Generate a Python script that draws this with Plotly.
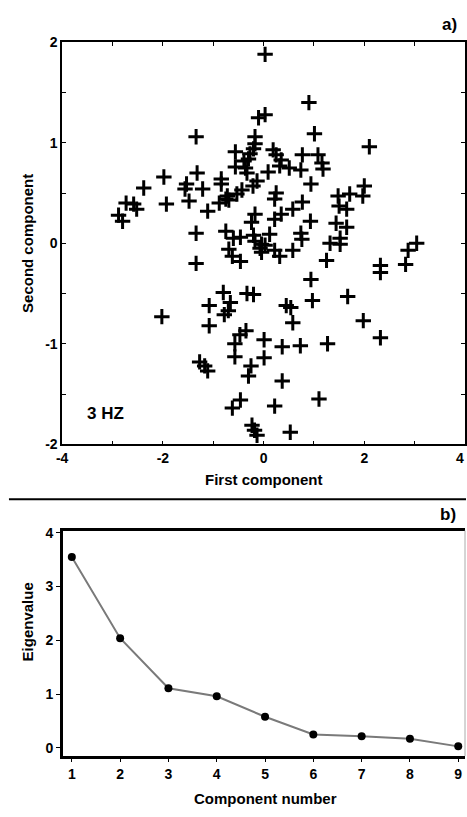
import plotly.graph_objects as go

# ---- Panel a): scores on first two components (3 Hz) ----
first_comp = [
    -2.88, -2.80, -2.73, -2.58, -2.52, -2.38, -1.98, -1.93, -1.34, -1.53,
    -1.56, -1.48, -1.32, -1.21, -1.11, -1.34, -0.84, -0.84, -0.88, -0.75,
    -0.75, -0.60, -0.46, 0.03, 0.90, -0.10, 0.03, 1.01, 2.10, -0.17,
    -0.17, -0.20, -0.27, -0.30, -0.56, 0.19, 0.25, 0.35, 0.77, 1.08,
    0.32, 0.51, 1.16, 1.18, 0.74, 0.09, -0.56, -0.39, -0.36, -0.33,
    0.94, -0.13, -0.21, -0.43, -0.53, -0.72, -0.69, 0.25, 0.22, 1.48,
    1.71, 2.00, 1.97, 1.50, 1.65, 0.77, 0.58, 0.35, 0.22, -0.17,
    -0.24, 0.93, 1.44, 1.65, -0.20, -0.17, -0.04, 0.12, 0.74, 0.76,
    1.32, 1.52, 1.52, -0.07, 0.03, -0.04, 0.22, 0.32, 0.58, 1.25,
    -0.69, -0.62, -0.46, -1.34, 0.94, -0.80, -0.66, -0.78, -0.70, -0.33,
    -0.20, -1.08, -1.08, -2.02, 0.45, 0.54, 0.97, 1.67, 0.58, 1.98,
    2.32, -0.47, -0.35, -0.57, -0.57, 0.01, 0.01, 0.37, 0.73, 1.27,
    -1.27, -1.17, -1.11, -0.25, -0.30, 0.37, 1.10, -0.46, -0.62, 0.22,
    -0.23, -0.18, -0.13, 0.53, 2.32, 2.32, 2.82, 2.87, 3.04,
]
second_comp = [
    0.28, 0.22, 0.40, 0.39, 0.34, 0.55, 0.66, 0.39, 1.06, 0.59,
    0.54, 0.42, 0.70, 0.54, 0.32, 0.10, 0.64, 0.59, 0.40, 0.44,
    0.12, 0.05, 0.06, 1.88, 1.40, 1.25, 1.28, 1.09, 0.96, 1.06,
    0.99, 0.94, 0.89, 0.84, 0.91, 0.93, 0.88, 0.83, 0.88, 0.88,
    0.77, 0.75, 0.80, 0.74, 0.73, 0.71, 0.76, 0.82, 0.75, 0.70,
    0.59, 0.62, 0.57, 0.53, 0.49, 0.47, 0.43, 0.50, 0.44, 0.47,
    0.49, 0.57, 0.47, 0.37, 0.34, 0.41, 0.34, 0.29, 0.24, 0.29,
    0.21, 0.22, 0.20, 0.16, 0.08, 0.02, -0.01, 0.09, 0.10, 0.04,
    0.00, 0.05, -0.01, -0.05, -0.02, -0.09, -0.07, -0.13, -0.07, -0.17,
    -0.06, -0.13, -0.18, -0.20, -0.36, -0.49, -0.59, -0.71, -0.67, -0.50,
    -0.51, -0.62, -0.82, -0.73, -0.62, -0.64, -0.57, -0.53, -0.79, -0.77,
    -0.94, -0.91, -0.87, -1.00, -1.13, -0.96, -1.14, -1.03, -1.02, -1.00,
    -1.18, -1.22, -1.27, -1.22, -1.32, -1.37, -1.55, -1.56, -1.64, -1.62,
    -1.81, -1.86, -1.91, -1.88, -0.22, -0.29, -0.21, -0.07, 0.00,
]
x_ticks = [-4, -2, 0, 2, 4]
x_tick_labels = ["-4", "-2", "0", "2", "4"]
y_ticks = [-2, -1, 0, 1, 2]
y_tick_labels = ["-2", "-1", "0", "1", "2"]

# ---- Panel b): scree plot ----
component_number = [1, 2, 3, 4, 5, 6, 7, 8, 9]
eigenvalue = [3.55, 2.04, 1.11, 0.96, 0.58, 0.25, 0.22, 0.17, 0.03]
eig_ticks = [0, 1, 2, 3, 4]

W, H = 467, 817
FONT = "Liberation Sans, Arial, Helvetica, sans-serif"


def px_x(p):
    return p / W


def px_y(p):
    return 1 - p / H


fig = go.Figure()

fig.add_trace(go.Scatter(
    x=first_comp, y=second_comp, mode="markers",
    marker=dict(symbol="cross-thin", size=11, color="black",
                line=dict(color="black", width=3)),
    xaxis="x", yaxis="y", showlegend=False, cliponaxis=False,
))

fig.add_trace(go.Scatter(
    x=component_number, y=eigenvalue, mode="lines+markers",
    line=dict(color="#7a7a7a", width=2),
    marker=dict(symbol="circle", size=8, color="black"),
    xaxis="x2", yaxis="y2", showlegend=False, cliponaxis=False,
))

tickfont = dict(family=FONT, size=14, color="black", weight="bold")

fig.update_layout(
    width=W, height=H,
    margin=dict(l=0, r=0, t=0, b=0),
    paper_bgcolor="white", plot_bgcolor="white",
    font=dict(family=FONT, color="black"),
    xaxis=dict(
        domain=[px_x(57), px_x(466)], range=[-4, 4],
        tickmode="array", tickvals=x_ticks, ticktext=x_tick_labels,
        ticks="inside", ticklen=4, tickwidth=1, tickcolor="black",
        minor=dict(tickvals=[-3, -1, 1, 3], ticks="inside", ticklen=4,
                   tickwidth=1, tickcolor="black", showgrid=False),
        showline=True, linecolor="black", linewidth=1.5, mirror="ticks",
        showgrid=False, zeroline=False, tickfont=tickfont,
        anchor="y",
    ),
    yaxis=dict(
        domain=[px_y(445), px_y(35)], range=[-2, 2],
        tickmode="array", tickvals=y_ticks, ticktext=y_tick_labels,
        ticks="inside", ticklen=4, tickwidth=1, tickcolor="black",
        minor=dict(tickvals=[-1.5, -0.5, 0.5, 1.5], ticks="inside",
                   ticklen=4, tickwidth=1, tickcolor="black", showgrid=False),
        showline=True, linecolor="black", linewidth=1.5, mirror="ticks",
        showgrid=False, zeroline=False, tickfont=tickfont,
        anchor="x",
    ),
    xaxis2=dict(
        domain=[px_x(58), px_x(466)], range=[0.82, 9.14],
        tickmode="array", tickvals=component_number,
        ticks="outside", ticklen=3, tickwidth=1, tickcolor="black",
        showline=True, linecolor="black", linewidth=3, mirror=True,
        showgrid=False, zeroline=False, tickfont=tickfont,
        anchor="y2",
    ),
    yaxis2=dict(
        domain=[px_y(763), px_y(533)], range=[-0.15, 4.04],
        tickmode="array", tickvals=eig_ticks,
        ticks="outside", ticklen=4, tickwidth=1, tickcolor="black",
        showline=True, linecolor="black", linewidth=3, mirror=False,
        showgrid=False, zeroline=False, tickfont=tickfont,
        anchor="x2",
    ),
)

title_font = dict(family=FONT, size=15, color="black", weight="bold")
annos = [
    dict(text="First component", x=px_x(262), y=px_y(481), font=title_font),
    dict(text="Second component", x=px_x(22), y=px_y(240), textangle=-90,
         font=title_font),
    dict(text="Eigenvalue", x=px_x(22), y=px_y(626), textangle=-90,
         font=title_font),
    dict(text="Component number", x=px_x(263), y=px_y(806), font=title_font),
    dict(text="a)", x=px_x(450), y=px_y(17),
         font=dict(family=FONT, size=17, color="black", weight="bold")),
    dict(text="b)", x=px_x(449), y=px_y(517),
         font=dict(family=FONT, size=17, color="black", weight="bold")),
    dict(text="3 HZ", x=px_x(101), y=px_y(414),
         font=dict(family=FONT, size=17, color="black", weight="bold")),
]
for a in annos:
    a.update(xref="paper", yref="paper", showarrow=False,
             xanchor="center", yanchor="middle")
# the right-most x tick label sits at the page edge; show it right-aligned
annos.append(dict(text=x_tick_labels[-1], xref="paper", yref="paper",
                  x=1, y=px_y(459), xanchor="right", yanchor="middle",
                  showarrow=False, font=tickfont))
fig.update_layout(annotations=annos)

fig.update_layout(shapes=[
    dict(type="line", xref="paper", yref="paper",
         x0=px_x(3), x1=1, y0=px_y(501), y1=px_y(501),
         line=dict(color="black", width=2)),
    dict(type="line", xref="x2 domain", yref="y2 domain",
         x0=1, x1=1, y0=0, y1=1, line=dict(color="#aaaaaa", width=1)),
])

fig.write_html(
    "out.html",
    config={"displayModeBar": False},
    post_script=(
        "document.documentElement.style.margin='0';"
        "document.documentElement.style.overflow='hidden';"
        "document.body.style.margin='0';"
        "document.body.style.padding='0';"
        "document.body.style.overflow='hidden';"
    ),
)
